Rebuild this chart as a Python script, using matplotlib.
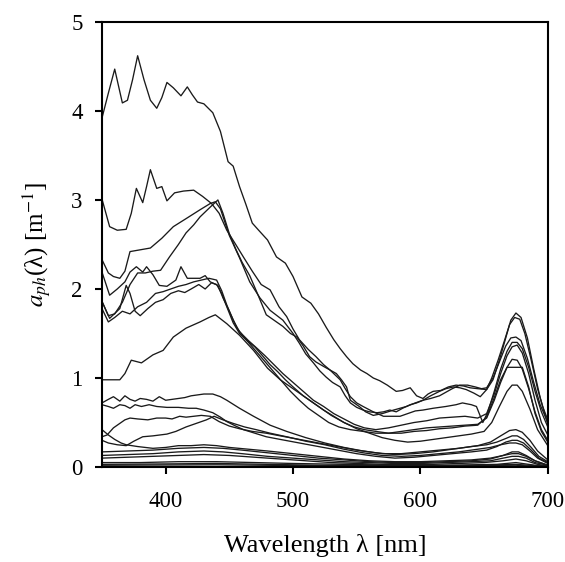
import matplotlib
matplotlib.use("Agg")
import matplotlib.pyplot as plt

plt.rcParams['font.family'] = ['Liberation Serif', 'DejaVu Serif']
plt.rcParams['mathtext.fontset'] = 'stix'

# ---- spectra a_ph(lambda) [m^-1] ----
wl_A = [350, 355, 360, 366, 370, 374, 378, 383, 388, 393, 397, 401, 406, 412, 417, 421, 425, 430, 437, 443,
        449, 453, 458, 463, 468, 473, 480, 487, 494, 500, 507, 514, 520, 526, 532, 537, 542, 547, 553, 558,
        563, 568, 574, 581, 586, 592, 597, 602, 606, 610, 616, 622, 628, 634, 639, 645, 652, 657, 662, 667,
        671, 675, 679, 684, 689, 694, 700]
a_A = [3.92, 4.20, 4.47, 4.09, 4.12, 4.35, 4.62, 4.35, 4.12, 4.03, 4.15, 4.32, 4.26, 4.17, 4.27, 4.18, 4.10, 4.08, 3.98, 3.77,
       3.43, 3.38, 3.15, 2.95, 2.74, 2.66, 2.55, 2.36, 2.29, 2.14, 1.91, 1.84, 1.72, 1.57, 1.43, 1.33, 1.24, 1.16, 1.09, 1.05,
       1.00, 0.97, 0.92, 0.85, 0.86, 0.89, 0.80, 0.77, 0.82, 0.85, 0.86, 0.90, 0.92, 0.91, 0.89, 0.88, 0.87, 0.98, 1.20, 1.45,
       1.65, 1.73, 1.68, 1.45, 1.10, 0.78, 0.48]

wl_B = [350, 356, 362, 369, 373, 377, 382, 385, 388, 393, 397, 401, 407, 414, 422, 429, 436, 442, 448, 455,
        461, 468, 475, 482, 489, 495, 500, 505, 512, 518, 524, 529, 537, 541, 545, 550, 555, 563, 571, 578,
        584, 590, 596, 602, 610, 620, 628, 633, 640, 644, 649, 653, 658, 663, 668, 672, 676, 680, 685, 690,
        695, 700]
a_B = [3.01, 2.70, 2.66, 2.67, 2.85, 3.13, 2.97, 3.15, 3.34, 3.13, 3.15, 2.99, 3.08, 3.10, 3.11, 3.04, 2.96, 2.85, 2.66, 2.50,
       2.36, 2.20, 2.05, 1.99, 1.80, 1.69, 1.55, 1.43, 1.32, 1.24, 1.15, 1.09, 0.98, 0.88, 0.79, 0.72, 0.68, 0.62, 0.57, 0.57,
       0.57, 0.60, 0.63, 0.64, 0.66, 0.68, 0.70, 0.72, 0.70, 0.68, 0.50, 0.62, 0.85, 1.10, 1.30, 1.40, 1.40, 1.33, 1.12, 0.85,
       0.62, 0.45]

wl_C = [350, 355, 359, 364, 368, 372, 380, 388, 397, 406, 416, 427, 435, 439, 443, 450, 458, 466, 474, 482,
        492, 500, 505, 510, 516, 521, 526, 531, 537, 541, 545, 550, 555, 560, 566, 571, 576, 581, 586, 592,
        597, 602, 608, 615, 620, 626, 631, 636, 642, 647, 652, 656, 661, 666, 670, 674, 678, 682, 687, 692,
        696, 700]
a_C = [2.33, 2.18, 2.14, 2.12, 2.20, 2.42, 2.44, 2.46, 2.57, 2.70, 2.79, 2.89, 2.96, 2.98, 2.90, 2.60, 2.35, 2.08, 1.90, 1.76,
       1.65, 1.50, 1.39, 1.27, 1.17, 1.08, 1.01, 0.95, 0.90, 0.80, 0.72, 0.67, 0.64, 0.62, 0.61, 0.62, 0.64, 0.62, 0.66, 0.70,
       0.72, 0.75, 0.80, 0.85, 0.88, 0.90, 0.89, 0.87, 0.83, 0.79, 0.87, 1.00, 1.20, 1.42, 1.60, 1.68, 1.66, 1.50, 1.20, 0.88,
       0.68, 0.53]

wl_D = [350, 355, 360, 366, 372, 378, 384, 390, 396, 403, 410, 416, 422, 427, 435, 441, 445, 450, 455, 460,
        466, 472, 479, 485, 492, 498, 503, 508, 513, 518, 524, 529, 534, 538, 542, 545, 552, 557, 563, 570,
        579, 584, 589, 596, 602, 608, 615, 620, 625, 631, 637, 643, 648, 652, 657, 662, 667, 671, 675, 679,
        684, 689, 694, 700]
a_D = [1.86, 1.70, 1.72, 1.85, 2.05, 2.18, 2.18, 2.20, 2.21, 2.36, 2.50, 2.63, 2.72, 2.81, 2.92, 3.00, 2.85, 2.62, 2.45, 2.30,
       2.15, 1.95, 1.71, 1.65, 1.58, 1.50, 1.46, 1.36, 1.24, 1.18, 1.13, 1.09, 1.05, 0.98, 0.90, 0.75, 0.68, 0.62, 0.58, 0.60,
       0.64, 0.66, 0.68, 0.72, 0.75, 0.77, 0.80, 0.84, 0.88, 0.92, 0.92, 0.90, 0.88, 0.89, 1.00, 1.18, 1.36, 1.45, 1.46, 1.42,
       1.22, 0.95, 0.70, 0.50]

wl_E = [350, 364, 368, 373, 381, 390, 398, 406, 416, 427, 434, 439, 448, 458, 469, 480, 490, 500, 510, 520,
        530, 540, 550, 560, 570, 580, 590, 600, 610, 620, 630, 640, 650, 656, 662, 668, 672, 676, 680, 686,
        692, 700]
a_E = [0.98, 0.98, 1.05, 1.20, 1.17, 1.26, 1.31, 1.46, 1.56, 1.63, 1.68, 1.71, 1.61, 1.48, 1.31, 1.11, 0.98, 0.88, 0.78, 0.68,
       0.58, 0.50, 0.43, 0.38, 0.33, 0.30, 0.28, 0.29, 0.31, 0.33, 0.35, 0.37, 0.40, 0.50, 0.68, 0.85, 0.92, 0.92, 0.85, 0.65,
       0.42, 0.24]

wl_F = [350, 356, 362, 368, 372, 377, 382, 385, 390, 395, 401, 408, 412, 417, 422, 427, 431, 435, 441, 445,
        450, 456, 462, 468, 474, 480, 486, 492, 498, 505, 512, 520, 528, 536, 545, 555, 565, 575, 585, 595,
        605, 615, 625, 635, 645, 652, 658, 663, 668, 672, 676, 680, 685, 690, 695, 700]
a_F = [2.19, 1.93, 2.00, 2.08, 2.19, 2.25, 2.19, 2.25, 2.16, 2.04, 2.03, 2.10, 2.25, 2.12, 2.12, 2.12, 2.15, 2.08, 2.04, 1.90,
       1.75, 1.56, 1.45, 1.35, 1.25, 1.15, 1.05, 0.95, 0.85, 0.75, 0.66, 0.58, 0.50, 0.45, 0.42, 0.40, 0.38, 0.38, 0.40, 0.42,
       0.44, 0.45, 0.46, 0.47, 0.48, 0.55, 0.75, 0.95, 1.12, 1.21, 1.20, 1.10, 0.88, 0.62, 0.42, 0.30]

wl_G = [350, 356, 364, 369, 372, 376, 380, 386, 392, 398, 404, 410, 415, 420, 426, 431, 436, 440, 444, 448,
        453, 458, 464, 470, 476, 482, 488, 494, 500, 508, 516, 524, 532, 540, 548, 556, 565, 575, 585, 595,
        605, 615, 625, 635, 645, 652, 658, 663, 668, 671, 680, 685, 690, 695, 700]
a_G = [1.86, 1.67, 1.78, 2.04, 1.95, 1.75, 1.70, 1.78, 1.85, 1.88, 1.95, 1.98, 1.96, 2.00, 2.05, 2.00, 2.07, 2.05, 1.95, 1.80,
       1.62, 1.50, 1.42, 1.35, 1.25, 1.15, 1.07, 0.98, 0.90, 0.80, 0.72, 0.64, 0.57, 0.50, 0.45, 0.42, 0.40, 0.38, 0.38, 0.40,
       0.41, 0.43, 0.44, 0.46, 0.47, 0.56, 0.78, 0.98, 1.12, 1.12, 1.12, 0.90, 0.60, 0.40, 0.28]

wl_H = [350, 355, 360, 366, 372, 378, 385, 392, 398, 404, 410, 416, 422, 428, 434, 440, 444, 448, 453, 458,
        465, 472, 478, 485, 492, 500, 508, 516, 524, 532, 540, 548, 556, 565, 575, 585, 595, 605, 615, 625,
        635, 645, 652, 658, 663, 668, 672, 676, 680, 685, 690, 695, 700]
a_H = [1.78, 1.63, 1.68, 1.75, 1.72, 1.80, 1.85, 1.95, 1.97, 2.00, 2.03, 2.05, 2.08, 2.10, 2.12, 2.10, 1.98, 1.82, 1.65, 1.52,
       1.42, 1.33, 1.25, 1.15, 1.05, 0.95, 0.85, 0.75, 0.68, 0.60, 0.54, 0.48, 0.44, 0.42, 0.44, 0.47, 0.50, 0.52, 0.55, 0.56,
       0.57, 0.55, 0.60, 0.82, 1.05, 1.25, 1.35, 1.37, 1.28, 1.05, 0.75, 0.50, 0.36]

wl_I = [350, 355, 359, 364, 368, 372, 376, 380, 385, 390, 395, 400, 405, 410, 415, 420, 430, 437, 443, 448,
        458, 469, 482, 495, 510, 525, 540, 555, 570, 585, 600, 615, 630, 645, 655, 663, 670, 675, 680, 686,
        692, 700]
a_I = [0.72, 0.76, 0.79, 0.74, 0.80, 0.76, 0.74, 0.77, 0.76, 0.74, 0.79, 0.75, 0.76, 0.77, 0.78, 0.80, 0.82, 0.82, 0.79, 0.75,
       0.66, 0.57, 0.47, 0.40, 0.33, 0.27, 0.22, 0.18, 0.15, 0.15, 0.17, 0.19, 0.21, 0.24, 0.28, 0.35, 0.41, 0.42, 0.39, 0.30,
       0.18, 0.08]

wl_I2 = [350, 355, 359, 364, 368, 372, 376, 381, 387, 393, 401, 410, 418, 424, 430, 437, 443, 448, 455, 461,
         470, 479, 490, 505, 520, 535, 550, 565, 580, 595, 610, 625, 640, 652, 660, 667, 672, 676, 681, 687,
         693, 700]
a_I2 = [0.70, 0.68, 0.66, 0.70, 0.69, 0.66, 0.70, 0.68, 0.70, 0.68, 0.67, 0.67, 0.66, 0.66, 0.64, 0.61, 0.56, 0.51, 0.46, 0.42,
        0.38, 0.34, 0.31, 0.27, 0.23, 0.19, 0.15, 0.12, 0.10, 0.11, 0.13, 0.15, 0.17, 0.19, 0.23, 0.28, 0.30, 0.30, 0.27, 0.19,
        0.10, 0.05]

wl_J = [350, 354, 359, 364, 368, 372, 378, 386, 393, 400, 405, 411, 416, 422, 428, 435, 442, 450, 458, 468,
        479, 490, 505, 520, 535, 550, 565, 580, 595, 610, 625, 640, 652, 660, 667, 672, 676, 681, 687, 693, 700]
a_J = [0.34, 0.36, 0.44, 0.49, 0.53, 0.55, 0.54, 0.53, 0.55, 0.55, 0.54, 0.57, 0.56, 0.57, 0.58, 0.57, 0.51, 0.46, 0.43, 0.40,
       0.38, 0.35, 0.31, 0.27, 0.23, 0.19, 0.16, 0.14, 0.15, 0.17, 0.20, 0.23, 0.25, 0.28, 0.32, 0.35, 0.35, 0.31, 0.22, 0.12, 0.06]

wl_K = [350, 355, 362, 369, 375, 382, 390, 401, 408, 416, 424, 432, 438, 445, 453, 462, 471, 482, 495, 510,
        525, 540, 555, 570, 585, 600, 615, 630, 645, 655, 663, 670, 675, 680, 686, 692, 700]
a_K = [0.30, 0.27, 0.25, 0.24, 0.29, 0.34, 0.35, 0.37, 0.40, 0.45, 0.49, 0.53, 0.57, 0.53, 0.49, 0.45, 0.42, 0.38, 0.34, 0.29,
       0.25, 0.20, 0.16, 0.13, 0.12, 0.13, 0.15, 0.17, 0.20, 0.22, 0.25, 0.27, 0.27, 0.25, 0.18, 0.10, 0.04]

wl_L = [350, 355, 360, 365, 369, 378, 390, 400, 410, 420, 430, 440, 450, 465, 480, 500, 520, 540, 560, 580,
        600, 620, 640, 655, 665, 672, 677, 683, 690, 700]
a_L = [0.42, 0.36, 0.31, 0.27, 0.25, 0.23, 0.21, 0.22, 0.24, 0.24, 0.25, 0.24, 0.22, 0.20, 0.18, 0.15, 0.12, 0.09, 0.07, 0.06,
       0.06, 0.07, 0.08, 0.10, 0.13, 0.15, 0.15, 0.12, 0.07, 0.02]

wl_M = [350, 370, 390, 410, 430, 445, 460, 480, 500, 520, 540, 560, 580, 600, 620, 640, 655, 665, 672, 677, 683, 690, 700]
a_M = [0.17, 0.18, 0.19, 0.21, 0.22, 0.21, 0.19, 0.16, 0.13, 0.10, 0.08, 0.06, 0.05, 0.05, 0.06, 0.07, 0.09, 0.13, 0.17, 0.17,
       0.13, 0.07, 0.02]

wl_N = [350, 370, 390, 410, 430, 445, 460, 480, 500, 520, 540, 560, 580, 600, 620, 640, 655, 665, 672, 677, 683, 690, 700]
a_N = [0.13, 0.14, 0.15, 0.17, 0.18, 0.17, 0.15, 0.12, 0.10, 0.08, 0.06, 0.05, 0.04, 0.04, 0.05, 0.06, 0.07, 0.10, 0.12, 0.12,
       0.10, 0.05, 0.02]

wl_O = [350, 370, 390, 410, 430, 450, 470, 490, 510, 530, 550, 570, 590, 610, 630, 650, 665, 675, 683, 692, 700]
a_O = [0.10, 0.11, 0.12, 0.13, 0.14, 0.13, 0.11, 0.09, 0.07, 0.05, 0.04, 0.03, 0.03, 0.03, 0.04, 0.05, 0.07, 0.09, 0.07, 0.03, 0.01]

wl_P = [350, 380, 410, 440, 470, 500, 540, 580, 620, 660, 675, 690, 700]
a_P = [0.05, 0.05, 0.06, 0.06, 0.05, 0.04, 0.03, 0.02, 0.02, 0.03, 0.05, 0.02, 0.01]

wl_Q = [350, 400, 440, 480, 520, 580, 640, 675, 700]
a_Q = [0.03, 0.035, 0.04, 0.03, 0.02, 0.015, 0.015, 0.03, 0.005]

wl_R = [350, 440, 550, 675, 700]
a_R = [0.02, 0.025, 0.01, 0.02, 0.0]

series = [(wl_A, a_A), (wl_B, a_B), (wl_C, a_C), (wl_D, a_D), (wl_E, a_E), (wl_F, a_F),
          (wl_G, a_G), (wl_H, a_H), (wl_I, a_I), (wl_I2, a_I2), (wl_J, a_J), (wl_K, a_K),
          (wl_L, a_L), (wl_M, a_M), (wl_N, a_N), (wl_O, a_O), (wl_P, a_P), (wl_Q, a_Q), (wl_R, a_R)]

x_ticks = [400, 500, 600, 700]
y_ticks = [0, 1, 2, 3, 4, 5]

fig = plt.figure(figsize=(5.65, 5.62), dpi=100)
ax = fig.add_axes([0.1805, 0.169, 0.789, 0.792])

for wl, a in series:
    ax.plot(wl, a, color='#1a1a1a', lw=0.95)

ax.set_xlim(350, 700)
ax.set_ylim(0, 5)
ax.set_xticks(x_ticks)
ax.set_yticks(y_ticks)
ax.tick_params(direction='out', length=5, width=1.5, labelsize=16.5)
ax.tick_params(axis='y', pad=9)
ax.tick_params(axis='x', pad=12)
for s in ax.spines.values():
    s.set_linewidth(1.5)

ax.set_xlabel('Wavelength λ [nm]', fontsize=19, labelpad=16)
ax.set_ylabel(r'$a_{ph}$(λ) [m$^{-1}$]', fontsize=18, labelpad=12)

fig.savefig('out.png', dpi=100)
